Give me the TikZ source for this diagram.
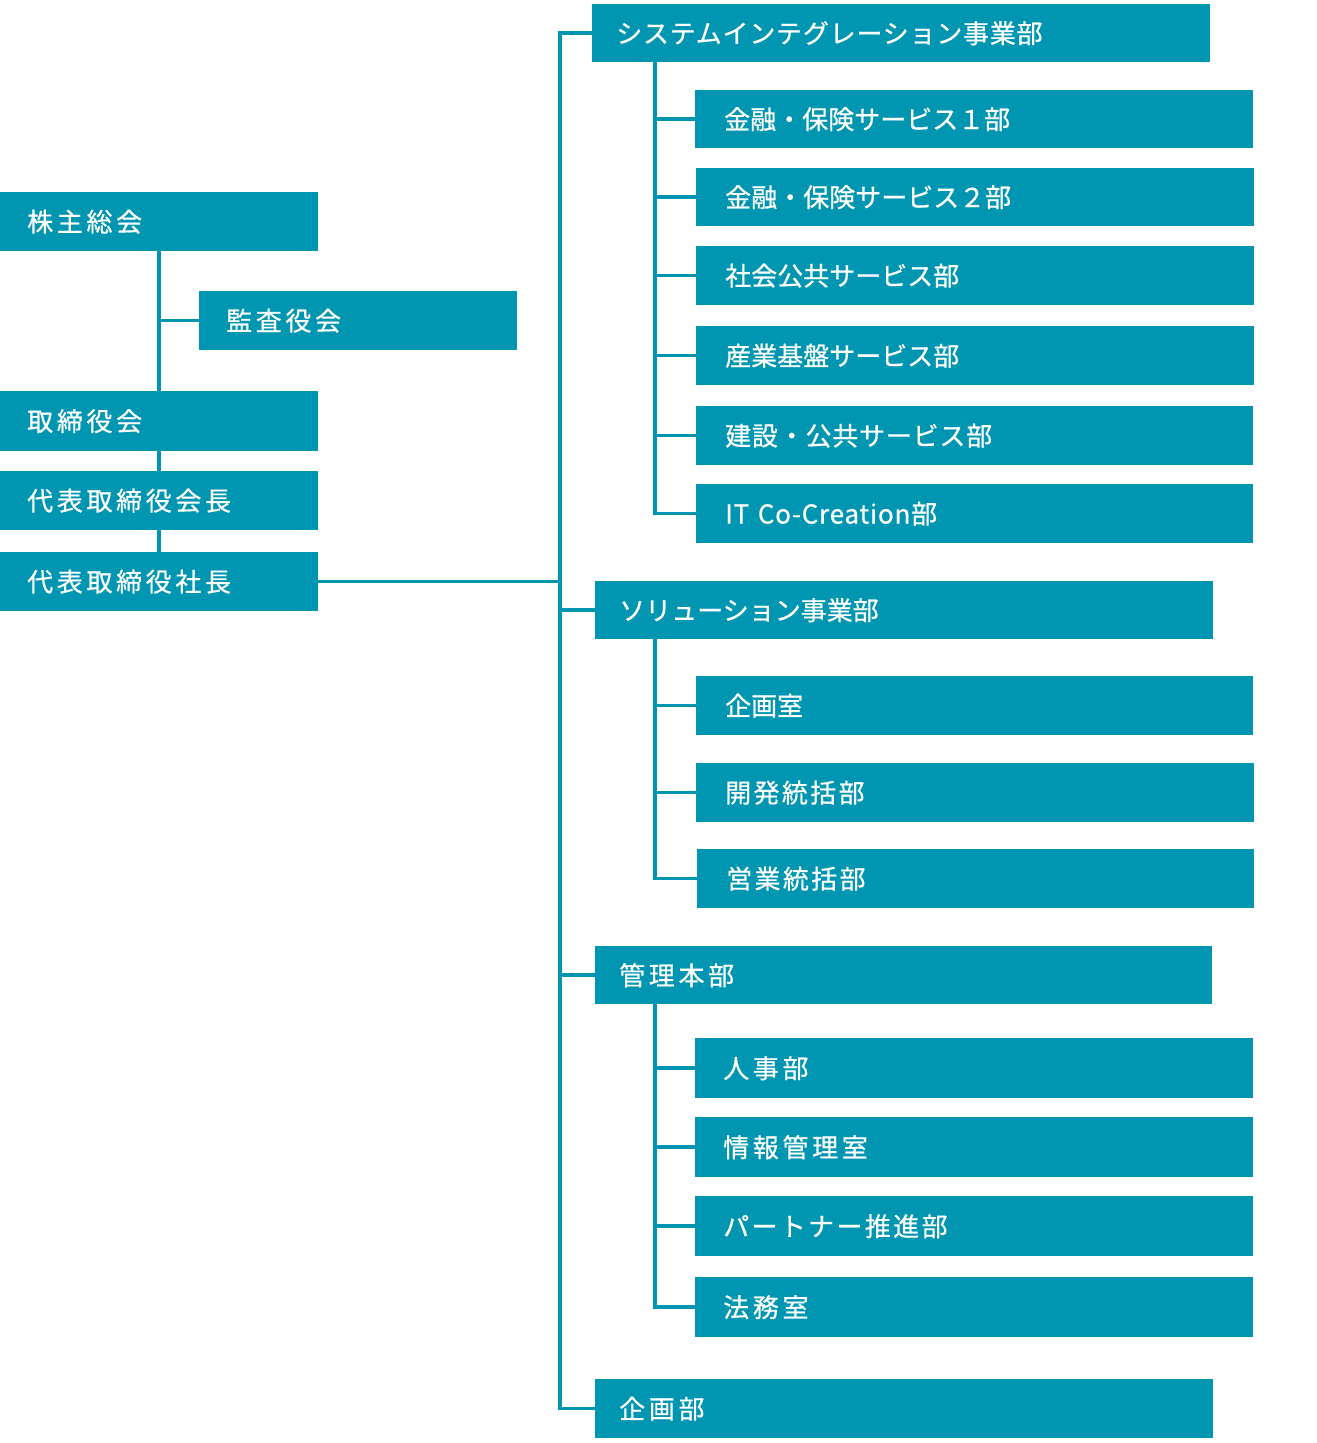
\documentclass[tikz,border=0pt]{standalone}
\usepackage{fontspec}
\newfontfamily\jpA[LetterSpace=14,FakeBold=0.6]{Noto Sans CJK JP}
\newfontfamily\jpB[LetterSpace=9,FakeBold=0.6]{Noto Sans CJK JP}
\newfontfamily\jpC[LetterSpace=3,FakeBold=0.6]{Noto Sans CJK JP}
\newfontfamily\jpD[FakeBold=0.6]{Noto Sans CJK JP}
\definecolor{teal}{RGB}{0,149,176}
\tikzset{
  box/.style={fill=teal, text=white, anchor=north west, inner ysep=0pt, align=left, font=\fontsize{26}{30}\selectfont},
  link/.style={draw=teal, line width=3.5pt, line join=miter}
}
\begin{document}
\begin{tikzpicture}[x=1pt,y=-1pt]
\useasboundingbox (0,0) rectangle (1317,1443);
\fill[white] (0,0) rectangle (1317,1443);
% left column
\node[box, text width=264pt, inner xsep=27pt, minimum height=59pt] (kabu) at (0,192) {\jpA 株主総会};
\node[box, text width=264pt, inner xsep=27pt, minimum height=59pt] (kansa) at (199,291) {\jpA 監査役会};
\node[box, text width=264pt, inner xsep=27pt, minimum height=60pt] (tori) at (0,391) {\jpA 取締役会};
\node[box, text width=264pt, inner xsep=27pt, minimum height=59pt] (kaicho) at (0,471) {\jpA 代表取締役会長};
\node[box, text width=264pt, inner xsep=27pt, minimum height=59pt] (shacho) at (0,552) {\jpA 代表取締役社長};
% system integration
\node[box, text width=570pt, inner xsep=24pt, minimum height=58pt] (si) at (592,4) {\jpC システムインテグレーション事業部};
\node[box, text width=500pt, inner xsep=29pt, minimum height=58pt] (k1) at (695,90) {\jpD 金融・保険サービス１部};
\node[box, text width=500pt, inner xsep=29pt, minimum height=58pt] (k2) at (696,168) {\jpD 金融・保険サービス２部};
\node[box, text width=500pt, inner xsep=29pt, minimum height=59pt] (shakai) at (696,246) {\jpD 社会公共サービス部};
\node[box, text width=500pt, inner xsep=29pt, minimum height=59pt] (sangyo) at (696,326) {\jpD 産業基盤サービス部};
\node[box, text width=499pt, inner xsep=29pt, minimum height=59pt] (kensetsu) at (696,406) {\jpC 建設・公共サービス部};
\node[box, text width=499pt, inner xsep=29pt, minimum height=59pt] (itc) at (696,484) {\jpC IT Co-Creation部};
% solution
\node[box, text width=570pt, inner xsep=24pt, minimum height=58pt] (sol) at (595,581) {\jpD ソリューション事業部};
\node[box, text width=499pt, inner xsep=29pt, minimum height=59pt] (kikakushitsu) at (696,676) {\jpD 企画室};
\node[box, text width=500pt, inner xsep=29pt, minimum height=59pt] (kaihatsu) at (696,763) {\jpB 開発統括部};
\node[box, text width=499pt, inner xsep=29pt, minimum height=59pt] (eigyo) at (697,849) {\jpB 営業統括部};
% kanri
\node[box, text width=569pt, inner xsep=24pt, minimum height=58pt] (kanri) at (595,946) {\jpA 管理本部};
\node[box, text width=502pt, inner xsep=28pt, minimum height=60pt] (jinji) at (695,1038) {\jpA 人事部};
\node[box, text width=502pt, inner xsep=28pt, minimum height=60pt] (joho) at (695,1117) {\jpA 情報管理室};
\node[box, text width=502pt, inner xsep=28pt, minimum height=60pt] (partner) at (695,1196) {\jpB パートナー推進部};
\node[box, text width=502pt, inner xsep=28pt, minimum height=60pt] (homu) at (695,1277) {\jpA 法務室};
% kikakubu
\node[box, text width=570pt, inner xsep=24pt, minimum height=59pt] (kikakubu) at (595,1379) {\jpA 企画部};
% connectors
\coordinate (T) at (560,31);
\coordinate (S) at (655,0);
\draw[link] (kabu) -- (tori);
\draw[link] (tori) -- (kaicho);
\draw[link] (kaicho) -- (shacho);
\draw[link] (kabu.south |- kansa.west) -- (kansa.west);
\draw[link] (shacho.east) -- (shacho.east -| T);
\draw[link] (si.west) -| (T |- kikakubu.west) -- (kikakubu.west);
\draw[link] (T |- sol.west) -- (sol.west);
\draw[link] (T |- kanri.west) -- (kanri.west);
\draw[link] (S |- si.south) |- (itc.west);
\foreach \n in {k1,k2,shakai,sangyo,kensetsu} \draw[link] (S |- \n.west) -- (\n.west);
\draw[link] (S |- sol.south) |- (eigyo.west);
\foreach \n in {kikakushitsu,kaihatsu} \draw[link] (S |- \n.west) -- (\n.west);
\draw[link] (S |- kanri.south) |- (homu.west);
\foreach \n in {jinji,joho,partner} \draw[link] (S |- \n.west) -- (\n.west);
\end{tikzpicture}
\end{document}
